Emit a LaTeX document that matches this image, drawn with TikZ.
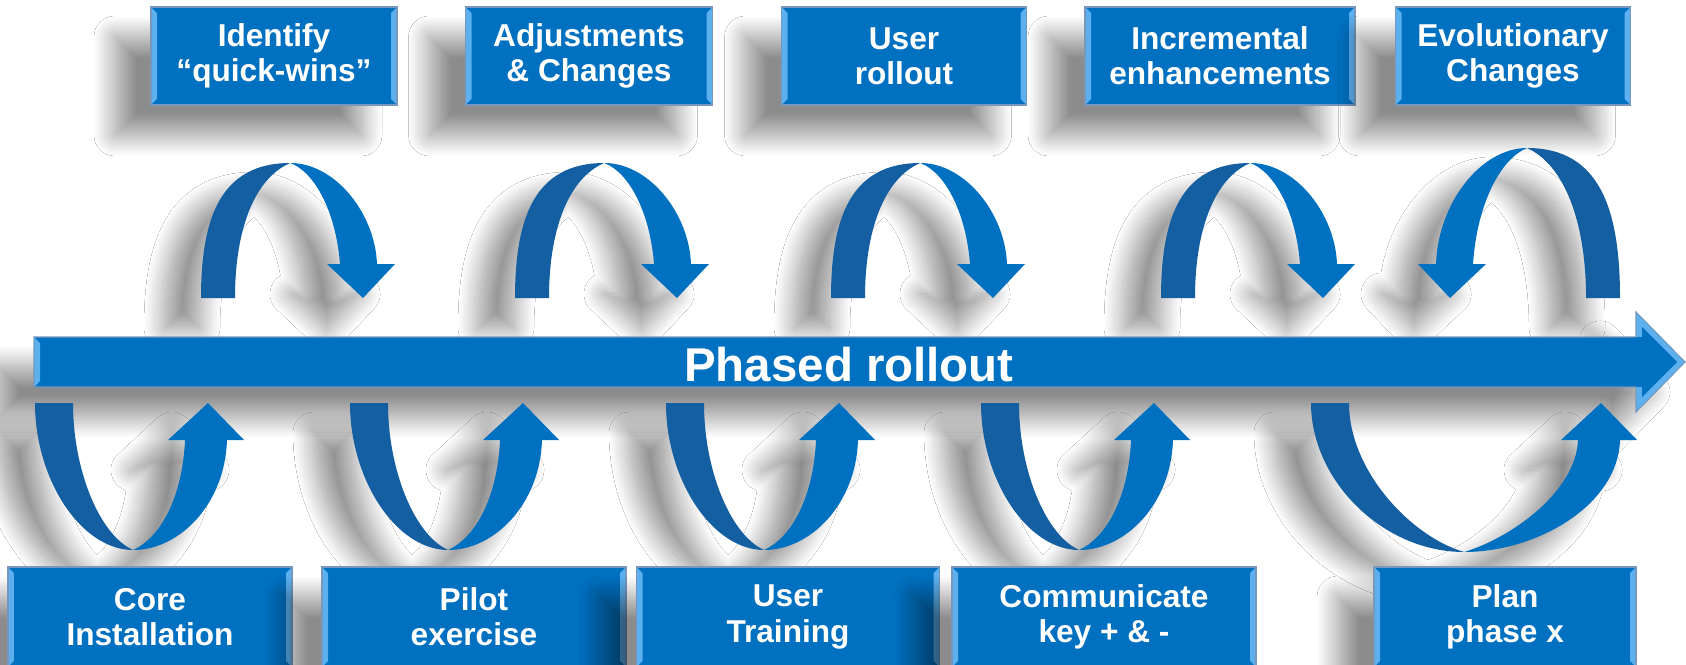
\documentclass[tikz,border=0pt]{standalone}
\usepackage{fontspec}
\setmainfont{Liberation Sans}
\usetikzlibrary{shadows,shadows.blur}

\definecolor{rollblue}{RGB}{0,112,192}
\definecolor{arcdark}{RGB}{20,94,162}
\definecolor{bevel}{RGB}{92,176,238}
\definecolor{rim}{RGB}{118,152,190}

\tikzstyle{softshadow}=[blur shadow={shadow xshift=-0.72cm, shadow yshift=-0.6cm, shadow blur radius=0.42cm,
    shadow blur steps=30, shadow opacity=45}]
\tikzstyle{stepbox}=[rectangle, fill=rollblue, draw=rim, line width=0.6pt, minimum height=1.96cm, inner sep=0pt,
    text=white, align=center, font=\fontsize{18}{20}\selectfont\bfseries, softshadow,
    path picture={
      \fill[bevel] (path picture bounding box.north west) -- (path picture bounding box.south west)
        -- ([shift={(0.12cm,0.12cm)}]path picture bounding box.south west)
        -- ([shift={(0.12cm,-0.12cm)}]path picture bounding box.north west) -- cycle;
      \fill[bevel] (path picture bounding box.north east) -- (path picture bounding box.south east)
        -- ([shift={(-0.12cm,0.12cm)}]path picture bounding box.south east)
        -- ([shift={(-0.12cm,-0.12cm)}]path picture bounding box.north east) -- cycle;
    }]
\tikzstyle{bartext}=[text=white, font=\fontsize{27}{30}\selectfont\bfseries]

% arch over the bar: leg x, side (1 or -1), width, height, base y
\newcommand{\toparc}[5]{%
  \pgfmathsetmacro\ka{#1+#2*0.10*#3}
  \pgfmathsetmacro\kb{#1+#2*0.46*#3}
  \pgfmathsetmacro\kc{#1+#2*0.69*#3}
  \pgfmathsetmacro\kd{#1+#2*(#3-20)}
  \pgfmathsetmacro\ke{#1+#2*(#3-18)}
  \pgfmathsetmacro\kf{#1+#2*#3}
  \pgfmathsetmacro\kg{#1+#2*(#3-32)}
  \pgfmathsetmacro\kh{#1+#2*(#3-68)}
  \pgfmathsetmacro\ki{#1+#2*(#3-55)}
  \pgfmathsetmacro\kj{#1+#2*(#3-59)}
  \pgfmathsetmacro\kk{#1+#2*0.59*#3}
  \pgfmathsetmacro\kl{#1+#2*0.28*#3}
  \pgfmathsetmacro\km{#1+#2*34}
  \pgfmathsetmacro\ya{#5+0.59*#4}
  \pgfmathsetmacro\yb{#5+#4}
  \pgfmathsetmacro\yc{#5+0.63*#4}
  \pgfmathsetmacro\yd{#5+34}
  \pgfmathsetmacro\ye{#5+0.93*#4}
  \pgfmathsetmacro\yf{#5+0.89*#4}
  \pgfmathsetmacro\yg{#5+0.52*#4}
  \path[softshadow] (#1,#5) .. controls (#1,\ya) and (\ka,\yb) .. (\kb,\yb)
    .. controls (\kc,\yb) and (\kd,\yc) .. (\ke,\yd) -- (\kf,\yd) -- (\kg,#5) -- (\kh,\yd) -- (\ki,\yd)
    .. controls (\kj,\yc) and (\kk,\ye) .. (\kb,\yb)
    .. controls (\kl,\yf) and (\km,\yg) .. (\km,#5) -- cycle;
  \fill[arcdark] (#1,#5) .. controls (#1,\ya) and (\ka,\yb) .. (\kb,\yb)
    .. controls (\kl,\yf) and (\km,\yg) .. (\km,#5) -- cycle;
  \fill[rollblue] (\kb,\yb) .. controls (\kc,\yb) and (\kd,\yc) .. (\ke,\yd) -- (\kf,\yd) -- (\kg,#5)
    -- (\kh,\yd) -- (\ki,\yd) .. controls (\kj,\yc) and (\kk,\ye) .. (\kb,\yb) -- cycle;
}

% loop under the bar: leg x, width, depth, top y
\newcommand{\btmarc}[4]{%
  \pgfmathsetmacro\ka{#1+0.22*#2}
  \pgfmathsetmacro\kb{#1+0.47*#2}
  \pgfmathsetmacro\kc{#1+0.69*#2}
  \pgfmathsetmacro\kd{#1+#2-19}
  \pgfmathsetmacro\ke{#1+#2-17}
  \pgfmathsetmacro\kf{#1+#2}
  \pgfmathsetmacro\kg{#1+#2-36}
  \pgfmathsetmacro\kh{#1+#2-76}
  \pgfmathsetmacro\ki{#1+#2-59}
  \pgfmathsetmacro\kj{#1+#2-61}
  \pgfmathsetmacro\kk{#1+0.62*#2}
  \pgfmathsetmacro\kl{#1+0.31*#2}
  \pgfmathsetmacro\km{#1+38}
  \pgfmathsetmacro\ya{#4-0.52*#3}
  \pgfmathsetmacro\yb{#4-#3}
  \pgfmathsetmacro\yc{#4-0.69*#3}
  \pgfmathsetmacro\yd{#4-37}
  \pgfmathsetmacro\ye{#4-0.9*#3}
  \pgfmathsetmacro\yf{#4-0.59*#3}
  \pgfmathsetmacro\yg{#4-0.46*#3}
  \path[softshadow] (#1,#4) .. controls (#1,\ya) and (\ka,\yb) .. (\kb,\yb)
    .. controls (\kc,\yb) and (\kd,\yc) .. (\ke,\yd) -- (\kf,\yd) -- (\kg,#4) -- (\kh,\yd) -- (\ki,\yd)
    .. controls (\kj,\yf) and (\kk,\ye) .. (\kb,\yb)
    .. controls (\kl,\ye) and (\km,\yg) .. (\km,#4) -- cycle;
  \fill[arcdark] (#1,#4) .. controls (#1,\ya) and (\ka,\yb) .. (\kb,\yb)
    .. controls (\kl,\ye) and (\km,\yg) .. (\km,#4) -- cycle;
  \fill[rollblue] (\kb,\yb) .. controls (\kc,\yb) and (\kd,\yc) .. (\ke,\yd) -- (\kf,\yd) -- (\kg,#4)
    -- (\kh,\yd) -- (\ki,\yd) .. controls (\kj,\yf) and (\kk,\ye) .. (\kb,\yb) -- cycle;
}

\newcommand{\barline}{(34,277) -- (34,327) -- (1636,327) -- (1636,352) -- (1685,302) -- (1636,252) -- (1636,277) -- cycle}

\begin{document}
\begin{tikzpicture}[x=0.02cm, y=0.02cm]

    \fill[white] (0,0) rectangle (1686,664);
    \useasboundingbox (0,0) rectangle (1686,664);

    % steps above the bar
    \foreach \cx/\bw/\name/\txt in {274/246/iden/{Identify\\“quick-wins”}, 589/247/adjust/{Adjustments\\\& Changes},
        904/245/urollout/{User\\rollout}, 1220/270/incr/{Incremental\\enhancements}, 1513/235/evol/{Evolutionary\\Changes}}
        \node[stepbox, minimum width=\bw*0.02cm] (\name) at (\cx,608) {\txt};

    \foreach \lx in {201,515,831,1161}
        {\toparc{\lx}{1}{194}{135}{366}}
    \toparc{1620}{-1}{202}{150}{366}

    % the main arrow
    \fill[rollblue, softshadow] \barline;
    \fill[bevel] (34,277) -- (34,327) -- (40,321) -- (40,283) -- cycle;
    \fill[bevel] (1636,352) -- (1685,302) -- (1636,252) -- cycle;
    \fill[rollblue] (1642,337) -- (1677,302) -- (1642,267) -- cycle;
    \fill[rollblue] (1630,277) rectangle (1643,327);
    \draw[rim, line width=0.6pt] \barline;
    \node[bartext] (rollout) at (849,299) {Phased rollout};

    \foreach \lx in {35,350,666,981}
        {\btmarc{\lx}{209}{147}{261}}
    \btmarc{1311}{326}{149}{261}

    % steps below the bar
    \foreach \cx/\bw/\name/\txt in {150/284/core/{Core\\Installation}, 474/304/pilot/{Pilot\\exercise},
        788/303/utrain/{User\\Training}, 1104/304/comm/{Communicate\\key + \& -}, 1505/262/plan/{Plan\\phase x}}
        \node[stepbox, minimum width=\bw*0.02cm, minimum height=2cm] (\name) at (\cx,47) {\txt};

\end{tikzpicture}
\end{document}
